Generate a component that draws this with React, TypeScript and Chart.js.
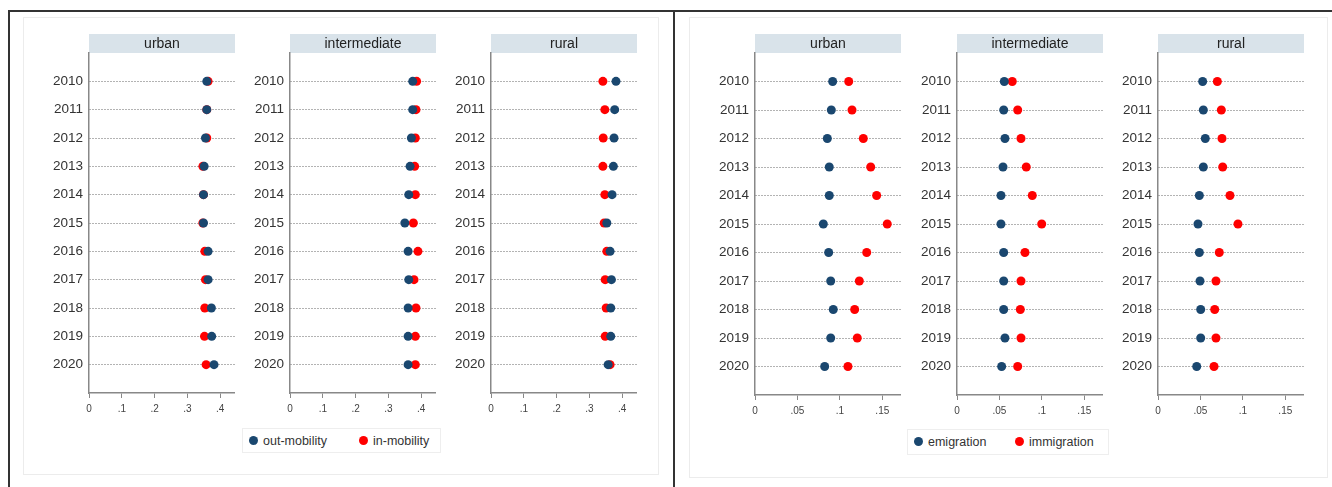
import React, { useEffect, useRef } from "react";
import { Chart, registerables } from "chart.js";

Chart.register(...registerables);

const FONT = "'Liberation Sans', Arial, Helvetica, sans-serif";
const BLUE = "#1a476f";
const RED = "#ff0000";
const STRIP_FILL = "#d9e3ea";

// ---- data ----
const years = [2010, 2011, 2012, 2013, 2014, 2015, 2016, 2017, 2018, 2019, 2020];

// mobility rates (left figure)
const urbanOut = [0.359, 0.359, 0.355, 0.351, 0.349, 0.349, 0.363, 0.363, 0.373, 0.374, 0.381];
const urbanIn = [0.363, 0.359, 0.359, 0.347, 0.349, 0.347, 0.353, 0.355, 0.353, 0.352, 0.357];
const intermediateOut = [0.374, 0.374, 0.37, 0.366, 0.362, 0.35, 0.36, 0.362, 0.36, 0.36, 0.36];
const intermediateIn = [0.386, 0.384, 0.382, 0.38, 0.382, 0.376, 0.39, 0.378, 0.384, 0.382, 0.382];
const ruralOut = [0.381, 0.377, 0.375, 0.373, 0.369, 0.353, 0.363, 0.367, 0.365, 0.365, 0.357];
const ruralIn = [0.341, 0.347, 0.342, 0.341, 0.347, 0.345, 0.353, 0.348, 0.351, 0.348, 0.363];

// migration rates (right figure)
const urbanEmig = [0.0915, 0.0899, 0.0852, 0.0875, 0.0875, 0.0805, 0.0868, 0.0892, 0.0922, 0.0892, 0.0821];
const urbanImmig = [0.1104, 0.1143, 0.1276, 0.1363, 0.1433, 0.1558, 0.1316, 0.1229, 0.1174, 0.1205, 0.1095];
const intermediateEmig = [0.0557, 0.055, 0.0565, 0.0542, 0.0518, 0.0518, 0.055, 0.055, 0.055, 0.0565, 0.0526];
const intermediateImmig = [0.0651, 0.0715, 0.0754, 0.0816, 0.0887, 0.0998, 0.0801, 0.0754, 0.0746, 0.0754, 0.0715];
const ruralEmig = [0.0526, 0.0534, 0.0557, 0.0534, 0.0487, 0.0471, 0.0487, 0.0495, 0.0503, 0.0503, 0.0456];
const ruralImmig = [0.0699, 0.0746, 0.0754, 0.0762, 0.0848, 0.0942, 0.0722, 0.0683, 0.0668, 0.0683, 0.066];

const mobilityTicks = [0, 0.1, 0.2, 0.3, 0.4];
const migrationTicks = [0, 0.05, 0.1, 0.15];
const mobilityMax = 0.445;
const migrationMax = 0.172;

const mobilitySeries = ["out-mobility", "in-mobility"];
const migrationSeries = ["emigration", "immigration"];

// ---- layout constants ----
const Y_AXIS_W = 50;
const X_AXIS_H = 30;
const STRIP_H = 19;
const PANEL_TOP = 34;

const fmtTick = (v: number) => (v === 0 ? "0" : String(v).replace(/^0\./, "."));

const stripPlugin = {
  id: "strip",
  beforeDraw(chart: any, _args: any, opts: any) {
    const { ctx, chartArea } = chart;
    ctx.save();
    ctx.fillStyle = STRIP_FILL;
    ctx.fillRect(chartArea.left, 0, chartArea.right - chartArea.left, chartArea.top);
    ctx.fillStyle = "#222";
    ctx.font = `14px ${FONT}`;
    ctx.textAlign = "center";
    ctx.textBaseline = "middle";
    ctx.fillText(opts.text, (chartArea.left + chartArea.right) / 2, chartArea.top / 2 + 0.5);
    ctx.restore();
  },
};

type PanelProps = {
  title: string;
  axisX: number;
  plotRight: number;
  axisY: number;
  xMax: number;
  ticks: number[];
  first: number[];
  second: number[];
  labels: string[];
};

function Panel({ title, axisX, plotRight, axisY, xMax, ticks, first, second, labels }: PanelProps) {
  const ref = useRef<HTMLCanvasElement | null>(null);
  const width = Y_AXIS_W + (plotRight - axisX);
  const height = axisY - PANEL_TOP + X_AXIS_H;

  useEffect(() => {
    if (!ref.current) return;
    const chart = new Chart(ref.current, {
      type: "scatter",
      data: {
        datasets: [
          {
            label: labels[0],
            data: years.map((y, i) => ({ x: first[i], y })),
            backgroundColor: BLUE,
            borderColor: BLUE,
            borderWidth: 0,
            pointRadius: 4.5,
            pointHoverRadius: 4.5,
          },
          {
            label: labels[1],
            data: years.map((y, i) => ({ x: second[i], y })),
            backgroundColor: RED,
            borderColor: RED,
            borderWidth: 0,
            pointRadius: 4.5,
            pointHoverRadius: 4.5,
          },
        ],
      },
      options: {
        responsive: false,
        animation: false,
        events: [],
        layout: { padding: { top: STRIP_H, left: 0, right: 0, bottom: 0 }, autoPadding: false },
        plugins: {
          legend: { display: false },
          tooltip: { enabled: false },
          strip: { text: title },
        } as any,
        scales: {
          x: {
            type: "linear",
            min: 0,
            max: xMax,
            afterBuildTicks: (s: any) => {
              s.ticks = ticks.map((v) => ({ value: v }));
            },
            afterFit: (s: any) => {
              s.height = X_AXIS_H;
            },
            ticks: {
              callback: (v: any) => fmtTick(Number(v)),
              font: { size: 10, family: FONT },
              color: "#444",
              padding: 5,
              maxRotation: 0,
              autoSkip: false,
            },
            grid: {
              drawOnChartArea: false,
              drawTicks: true,
              tickLength: 5,
              tickColor: "#888",
              tickWidth: 1,
            },
            border: { display: true, color: "#888", width: 1.5 },
          },
          y: {
            type: "linear",
            reverse: true,
            min: 2009,
            max: 2021,
            afterBuildTicks: (s: any) => {
              s.ticks = years.map((v) => ({ value: v }));
            },
            afterFit: (s: any) => {
              s.width = Y_AXIS_W;
            },
            ticks: {
              callback: (v: any) => String(v),
              font: { size: 13.5, family: FONT },
              color: "#333",
              padding: 6,
              autoSkip: false,
            },
            grid: { color: "#666", lineWidth: 1, drawTicks: false },
            border: { display: true, color: "#888", width: 1.5, dash: [1, 2] },
          },
        },
      } as any,
      plugins: [stripPlugin],
    });
    return () => chart.destroy();
  }, []);

  return (
    <canvas
      ref={ref}
      width={width}
      height={height}
      style={{
        position: "absolute",
        left: axisX - Y_AXIS_W,
        top: PANEL_TOP,
        width,
        height,
      }}
    />
  );
}

function Legend({ left, top, width, height, labels, gap }: { left: number; top: number; width: number; height: number; labels: string[]; gap: number }) {
  const dot = (c: string) => (
    <span
      style={{
        display: "inline-block",
        width: 9,
        height: 9,
        borderRadius: "50%",
        background: c,
        marginRight: 5,
        verticalAlign: "middle",
        position: "relative",
        top: -1,
      }}
    />
  );
  return (
    <div
      style={{
        position: "absolute",
        left,
        top,
        width,
        height,
        boxSizing: "border-box",
        border: "1px solid #eeeeee",
        fontFamily: FONT,
        fontSize: 12.5,
        color: "#333",
        display: "flex",
        alignItems: "center",
        paddingLeft: 6,
        whiteSpace: "nowrap",
      }}
    >
      <span style={{ display: "inline-block", width: gap }}>
        {dot(BLUE)}
        {labels[0]}
      </span>
      <span>
        {dot(RED)}
        {labels[1]}
      </span>
    </div>
  );
}

export default function App() {
  const line = (s: React.CSSProperties) => <div style={{ position: "absolute", background: "#333", ...s }} />;
  const box = (s: React.CSSProperties) => (
    <div style={{ position: "absolute", border: "1px solid #ececec", boxSizing: "border-box", ...s }} />
  );
  return (
    <div style={{ position: "absolute", left: 0, top: 0, width: 1332, height: 487, background: "#fff", overflow: "hidden" }}>
      {box({ left: 23, top: 17, width: 636, height: 458 })}
      {box({ left: 689, top: 17, width: 639, height: 461 })}
      {line({ left: 8, top: 10, width: 1324, height: 2 })}
      {line({ left: 8, top: 10, width: 2, height: 477 })}
      {line({ left: 673, top: 10, width: 2, height: 477 })}

      <Panel title="urban" axisX={89} plotRight={235} axisY={393} xMax={mobilityMax} ticks={mobilityTicks} first={urbanOut} second={urbanIn} labels={mobilitySeries} />
      <Panel title="intermediate" axisX={290} plotRight={436} axisY={393} xMax={mobilityMax} ticks={mobilityTicks} first={intermediateOut} second={intermediateIn} labels={mobilitySeries} />
      <Panel title="rural" axisX={491} plotRight={637} axisY={393} xMax={mobilityMax} ticks={mobilityTicks} first={ruralOut} second={ruralIn} labels={mobilitySeries} />

      <Panel title="urban" axisX={755} plotRight={901} axisY={395} xMax={migrationMax} ticks={migrationTicks} first={urbanEmig} second={urbanImmig} labels={migrationSeries} />
      <Panel title="intermediate" axisX={957} plotRight={1103} axisY={395} xMax={migrationMax} ticks={migrationTicks} first={intermediateEmig} second={intermediateImmig} labels={migrationSeries} />
      <Panel title="rural" axisX={1158} plotRight={1304} axisY={395} xMax={migrationMax} ticks={migrationTicks} first={ruralEmig} second={ruralImmig} labels={migrationSeries} />

      <Legend left={242} top={428} width={199} height={25} labels={mobilitySeries} gap={110} />
      <Legend left={907} top={429} width={202} height={26} labels={migrationSeries} gap={101} />
    </div>
  );
}
